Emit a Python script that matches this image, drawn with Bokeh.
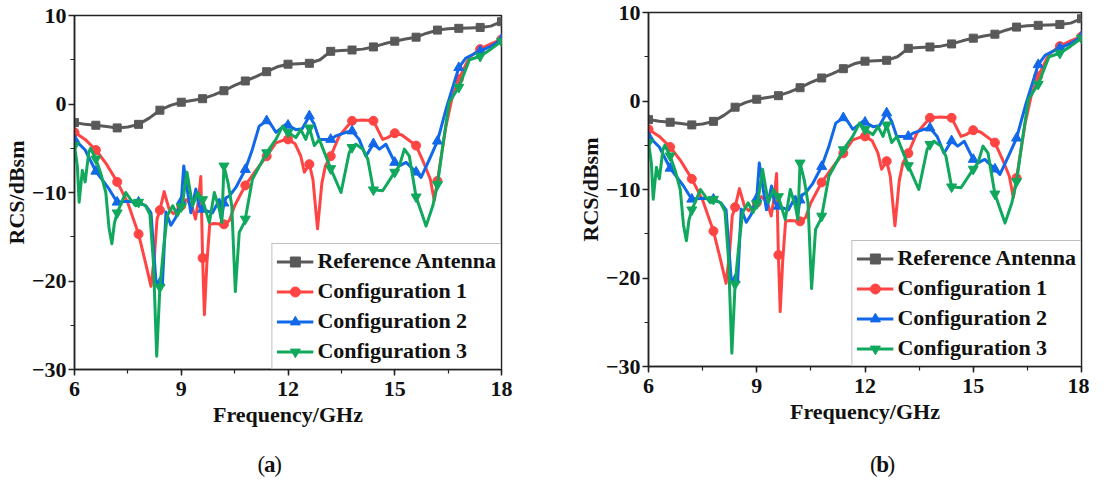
import numpy as np
from bokeh.plotting import figure
from bokeh.layouts import row, column
from bokeh.models import Range1d, SingleIntervalTicker, CustomJSTickFormatter
from bokeh.core.properties import value
from bokeh.embed import file_html
from bokeh.resources import INLINE

# ---------------- data ----------------
FREQ_REF = [6.0, 6.3, 6.6, 6.9, 7.2, 7.5, 7.8, 8.1, 8.4, 8.7, 9.0, 9.3, 9.6, 9.9, 10.2, 10.5,
            10.8, 11.1, 11.4, 11.7, 12.0, 12.3, 12.6, 12.9, 13.2, 13.5, 13.8, 14.1, 14.4, 14.7,
            15.0, 15.3, 15.6, 15.9, 16.2, 16.5, 16.8, 17.1, 17.4, 17.7, 18.0]
RCS_REF = [-2.1, -2.3, -2.4, -2.55, -2.7, -2.6, -2.3, -1.6, -0.7, -0.15, 0.2, 0.4, 0.6, 1.0, 1.5, 2.1,
           2.6, 3.1, 3.65, 4.2, 4.5, 4.55, 4.6, 5.0, 5.95, 6.05, 6.1, 6.2, 6.45, 6.8,
           7.1, 7.35, 7.55, 8.0, 8.35, 8.5, 8.55, 8.6, 8.65, 8.8, 9.3]

FREQ_C1 = [6.0, 6.3, 6.6, 6.9, 7.2, 7.5, 7.8, 8.0, 8.15, 8.25, 8.32, 8.4, 8.52, 8.66, 8.78, 9.0,
           9.13, 9.3, 9.4, 9.48, 9.55, 9.6, 9.65, 9.72, 9.8, 9.9, 10.2, 10.35, 10.5, 10.8, 11.1,
           11.4, 11.66, 11.94, 12.0, 12.2, 12.36, 12.46, 12.6, 12.7, 12.83, 12.95, 13.05, 13.2,
           13.44, 13.8, 14.1, 14.4, 14.66, 14.8, 15.0, 15.2, 15.6, 15.8, 16.0, 16.11, 16.2, 16.44,
           16.6, 16.8, 17.1, 17.4, 17.7, 18.0]
RCS_C1 = [-3.2, -4.0, -5.2, -6.8, -8.8, -11.2, -14.7, -18.0, -20.6, -17.0, -13.0, -12.0, -9.9, -11.9,
          -12.4, -11.5, -10.8, -11.5, -13.0, -11.0, -8.2, -17.4, -23.8, -18.0, -13.6, -13.5, -13.6,
          -13.2, -11.5, -9.2, -7.5, -5.9, -4.4, -4.0, -4.0, -4.5, -5.9, -7.7, -6.8, -8.5, -14.1,
          -9.0, -7.0, -5.9, -3.6, -1.9, -1.8, -1.9, -4.0, -3.8, -3.3, -3.5, -4.7, -6.5, -8.5,
          -10.9, -8.7, -2.5, 0.5, 2.8, 5.3, 6.2, 6.8, 7.3]

FREQ_C2 = [6.0, 6.3, 6.6, 6.97, 7.2, 7.5, 7.8, 8.0, 8.15, 8.29, 8.4, 8.47, 8.57, 8.71, 8.85, 9.0,
           9.07, 9.18, 9.27, 9.41, 9.5, 9.6, 9.88, 10.07, 10.13, 10.2, 10.26, 10.35, 10.54, 10.8,
           11.0, 11.19, 11.4, 11.52, 11.66, 11.94, 12.0, 12.22, 12.4, 12.6, 12.74, 12.88, 13.2,
           13.35, 13.63, 13.8, 14.0, 14.19, 14.4, 14.57, 14.75, 15.0, 15.13, 15.32, 15.6, 15.74,
           15.98, 16.2, 16.44, 16.8, 17.0, 17.4, 17.7, 18.0]
RCS_C2 = [-4.0, -5.2, -7.6, -9.6, -11.1, -11.0, -11.1, -11.5, -12.3, -20.1, -20.2, -20.4, -12.2,
          -13.7, -12.8, -11.0, -7.0, -10.0, -12.3, -9.6, -11.5, -11.9, -12.3, -10.8, -13.0, -11.2,
          -10.6, -10.4, -9.4, -7.4, -5.1, -2.5, -1.9, -2.3, -3.2, -2.3, -2.4, -2.9, -2.8, -1.35,
          -2.3, -4.0, -4.0, -3.6, -3.2, -3.05, -4.0, -5.9, -4.5, -5.1, -4.55, -6.6, -7.0, -6.6,
          -7.7, -8.3, -6.2, -4.2, -0.6, 4.1, 5.2, 6.0, 6.5, 7.3]

FREQ_C3 = [6.0, 6.08, 6.13, 6.22, 6.3, 6.4, 6.45, 6.6, 6.75, 6.88, 6.97, 7.05, 7.12, 7.2, 7.44,
           7.58, 7.72, 7.8, 8.0, 8.12, 8.22, 8.31, 8.4, 8.52, 8.61, 8.76, 8.9, 9.0, 9.04, 9.16,
           9.32, 9.46, 9.6, 9.79, 9.93, 10.07, 10.14, 10.2, 10.32, 10.42, 10.52, 10.63, 10.77,
           10.8, 11.0, 11.4, 11.66, 11.85, 12.0, 12.22, 12.36, 12.5, 12.6, 12.74, 12.88, 13.2,
           13.49, 13.72, 13.8, 13.91, 14.1, 14.24, 14.4, 14.66, 15.0, 15.13, 15.27, 15.41, 15.6,
           15.78, 15.88, 16.07, 16.2, 16.35, 16.53, 16.8, 17.1, 17.4, 17.7, 18.0]
RCS_C3 = [-4.7, -7.0, -11.1, -7.5, -8.8, -5.5, -5.0, -6.2, -8.0, -10.0, -14.0, -15.8, -13.5, -12.3,
          -10.0, -10.8, -11.5, -11.1, -11.5, -12.5, -18.0, -28.5, -20.7, -15.6, -12.6, -11.5,
          -12.6, -11.6, -11.1, -7.7, -11.5, -10.0, -10.8, -13.4, -10.0, -11.9, -13.4, -7.0, -9.0,
          -11.5, -21.2, -14.5, -13.4, -13.0, -8.5, -5.5, -4.0, -2.5, -3.2, -3.8, -2.9, -4.0, -2.7,
          -4.7, -4.0, -7.3, -10.0, -5.5, -4.9, -4.55, -5.1, -6.2, -9.7, -9.8, -7.7, -7.0, -5.1,
          -5.9, -10.5, -12.6, -13.8, -11.5, -9.1, -4.7, 0.2, 1.9, 5.0, 5.4, 6.2, 7.1]

MARK_FREQ = [6.0, 6.6, 7.2, 7.8, 8.4, 9.0, 9.6, 10.2, 10.8, 11.4, 12.0, 12.6, 13.2, 13.8, 14.4,
             15.0, 15.6, 16.2, 16.8, 17.4, 18.0]

SERIES_NAMES = ["Reference Antenna", "Configuration 1", "Configuration 2", "Configuration 3"]
X_LABEL = "Frequency/GHz"
Y_LABEL = "RCS/dBsm"
PANEL_TAGS = ["a", "b"]

# ---------------- styling ----------------
COLORS = ["#595959", "#ff4444", "#1168e8", "#10a85c"]
MARKERS = ["square", "circle", "triangle", "inverted_triangle"]
MSIZES = [8, 9, 10, 10]
FONT = "Liberation Serif"

SERIES = [(FREQ_REF, RCS_REF), (FREQ_C1, RCS_C1), (FREQ_C2, RCS_C2), (FREQ_C3, RCS_C3)]

FRAME_W = 433
FRAME_H = 354
PLOT_H = 440
TAG_H = 40


def make_panel(width, left, top):
    p = figure(width=width, height=PLOT_H, output_backend="svg", toolbar_location=None,
               x_range=Range1d(6, 18), y_range=Range1d(-30, 10),
               min_border_left=left, min_border_right=width - left - FRAME_W,
               min_border_top=top, min_border_bottom=PLOT_H - top - FRAME_H)
    p.grid.visible = False
    p.outline_line_color = "#222222"
    p.outline_line_width = 1.5
    p.background_fill_color = "white"
    p.border_fill_color = "white"

    for (f, v), name, c, m, s in zip(SERIES, SERIES_NAMES, COLORS, MARKERS, MSIZES):
        f = np.asarray(f, dtype=float)
        v = np.asarray(v, dtype=float)
        p.line(f, v, line_color=c, line_width=3, line_join="round", legend_label=name)
        mask = np.isin(np.round(f, 2), MARK_FREQ)
        p.scatter(f[mask], v[mask], marker=m, size=s, fill_color=c, line_color=c,
                  legend_label=name)

    p.xaxis.ticker = SingleIntervalTicker(interval=3, num_minor_ticks=2)
    p.yaxis.ticker = SingleIntervalTicker(interval=10, num_minor_ticks=2)
    p.yaxis.formatter = CustomJSTickFormatter(
        code="return tick < 0 ? '\u2212' + Math.abs(tick) : tick.toString();")
    for ax in (p.xaxis[0], p.yaxis[0]):
        ax.axis_line_color = "#222222"
        ax.axis_line_width = 1.5
        ax.major_tick_line_color = "#222222"
        ax.major_tick_line_width = 1.5
        ax.minor_tick_line_color = "#222222"
        ax.minor_tick_line_width = 1.2
        ax.major_tick_in = 0
        ax.major_tick_out = 6
        ax.minor_tick_in = 0
        ax.minor_tick_out = 4
        ax.major_label_text_font = FONT
        ax.major_label_text_font_style = "bold"
        ax.major_label_text_font_size = "22px"
        ax.major_label_text_color = "#111111"
        ax.axis_label_text_font = FONT
        ax.axis_label_text_font_style = "bold"
        ax.axis_label_text_font_size = "22px"
        ax.axis_label_text_color = "#111111"
    p.xaxis.axis_label = X_LABEL
    p.yaxis.axis_label = Y_LABEL
    p.xaxis.major_label_standoff = 6
    p.xaxis.axis_label_standoff = 3
    p.yaxis.major_label_standoff = 2
    p.yaxis.axis_label_standoff = 0

    lg = p.legend[0]
    lg.location = "bottom_right"
    lg.margin = 0
    lg.padding = 4
    lg.spacing = 4
    lg.label_height = 25
    lg.glyph_height = 25
    lg.glyph_width = 37
    lg.label_standoff = 4
    lg.label_text_font = FONT
    lg.label_text_font_style = "bold"
    lg.label_text_font_size = "22px"
    lg.label_text_color = "#111111"
    lg.border_line_color = "#808080"
    lg.border_line_width = 1
    lg.background_fill_color = "white"
    lg.background_fill_alpha = 1.0
    return p


def make_tag(tag, width, cx):
    t = figure(width=width, height=TAG_H, output_backend="svg", toolbar_location=None,
               x_range=Range1d(0, width), y_range=Range1d(0, TAG_H),
               x_axis_location=None, y_axis_location=None,
               min_border=0, outline_line_color=None)
    t.grid.visible = False
    common = dict(y=[16], text_font=value(FONT), text_font_size="23px",
                  text_baseline="alphabetic", text_color="#111111")
    t.text(x=[cx - 6], text=["("], text_align="right", text_font_style="normal", **common)
    t.text(x=[cx], text=[tag], text_align="center", text_font_style="bold", **common)
    t.text(x=[cx + 6], text=[")"], text_align="left", text_font_style="normal", **common)
    return t


# panel (a): frame 76..509 x 23..377 ; panel (b): frame 656..1089 x 20..374
pa = make_panel(width=558, left=68, top=15)
pb = make_panel(width=531, left=90, top=12)
ta = make_tag(PANEL_TAGS[0], 558, 255)
tb = make_tag(PANEL_TAGS[1], 531, 287)

col_a = column(pa, ta, spacing=0)
col_b = column(pb, tb, spacing=0)
layout = row(col_a, col_b, spacing=0)
open("out.html", "w").write(file_html(layout, INLINE))
